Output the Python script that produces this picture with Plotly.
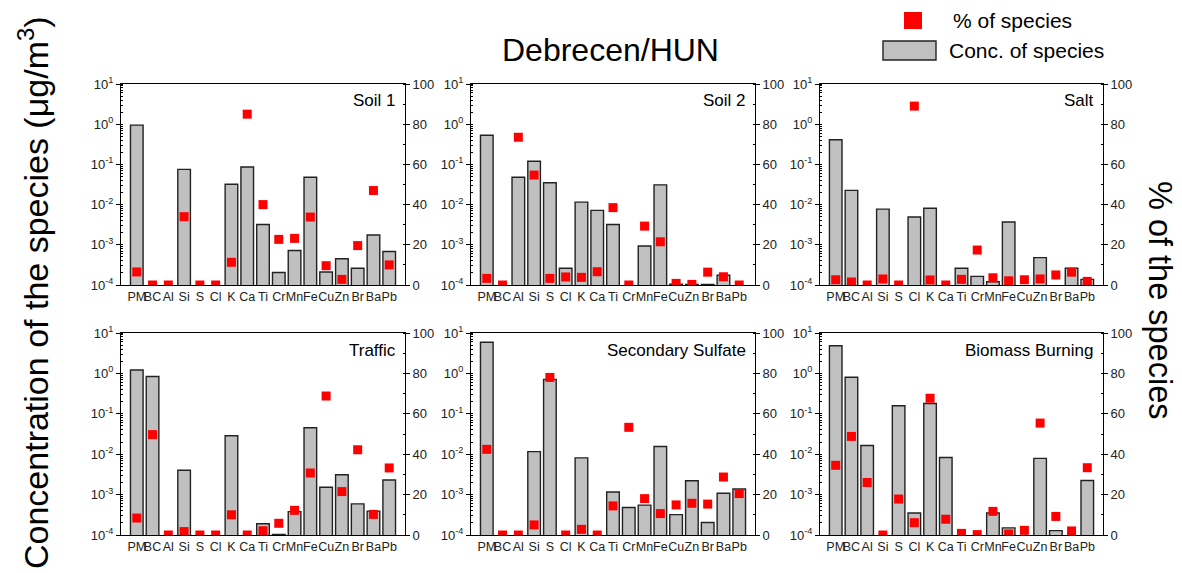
import plotly.graph_objects as go

W, H = 1182, 573

species = ["PM", "BC", "Al", "Si", "S", "Cl", "K", "Ca", "Ti", "Cr", "Mn", "Fe", "Cu", "Zn", "Br", "Ba", "Pb"]

soil1_conc = [0.95, None, None, 0.075, None, None, 0.032, 0.086, 0.0032, 2.05e-4, 7.2e-4, 0.048, 2.1e-4, 4.5e-4, 2.6e-4, 1.75e-3, 6.8e-4]
soil1_pct = [6.5, 0, 0, 34, 0, 0, 11.3, 85, 40, 22.7, 23.2, 33.8, 9.6, 2.8, 19.6, 47, 10]

soil2_conc = [0.53, None, 0.048, 0.12, 0.035, 2.6e-4, 0.0115, 0.0072, 0.0032, None, 9.3e-4, 0.031, 1.04e-4, 1.03e-4, 1.03e-4, 1.75e-4, None]
soil2_pct = [3.3, 0, 73.5, 54.7, 3.3, 4, 3.8, 6.6, 38.5, 0, 29.3, 21.5, 0.8, 0.3, 6.4, 4.1, 0]

salt_conc = [0.41, 0.0226, None, 0.0077, None, 0.0049, 0.0081, None, 2.6e-4, 1.64e-4, 1.2e-4, 0.0037, None, 4.8e-4, None, 2.6e-4, 1.38e-4]
salt_pct = [2.6, 1.5, 0, 3.0, 0, 89, 2.5, 0, 2.8, 17.4, 3.6, 2.1, 2.6, 3.0, 5.0, 6.4, 1.8]

traffic_conc = [1.21, 0.84, None, 0.004, None, None, 0.0285, None, 1.9e-4, 1.03e-4, 3.8e-4, 0.045, 1.52e-3, 3.1e-3, 5.9e-4, 3.9e-4, 2.3e-3]
traffic_pct = [8.4, 49.7, 0, 1.7, 0, 0, 10, 0, 2.1, 5.8, 12.2, 30.7, 68.8, 21.5, 42.2, 10.2, 33.2]

sulfate_conc = [5.9, None, None, 0.0116, 0.71, None, 0.0081, None, 1.16e-3, 4.8e-4, 5.5e-4, 0.0155, 3.2e-4, 2.2e-3, 2.04e-4, 1.08e-3, 1.38e-3]
sulfate_pct = [42.4, 0, 0, 5, 78, 0, 2.8, 0, 14.4, 53.3, 18, 10.6, 14.9, 15.7, 15.3, 28.7, 20.5]

biomass_conc = [4.85, 0.8, 0.0164, None, 0.158, 3.5e-4, 0.18, 0.0083, None, None, 3.5e-4, 1.5e-4, None, 0.0079, 1.28e-4, None, 2.24e-3]
biomass_pct = [34.5, 48.8, 26, 0, 17.8, 6.1, 67.7, 7.8, 0.8, 0.2, 11.7, 0.5, 2.3, 55.4, 9.2, 2.0, 33.3]

panel_names = ["Soil 1", "Soil 2", "Salt", "Traffic", "Secondary Sulfate", "Biomass Burning"]
panel_conc = [soil1_conc, soil2_conc, salt_conc, traffic_conc, sulfate_conc, biomass_conc]
panel_pct = [soil1_pct, soil2_pct, salt_pct, traffic_pct, sulfate_pct, biomass_pct]

log_tickvals = [1e-4, 1e-3, 1e-2, 1e-1, 1e0, 1e1]
log_ticktext = ["10<sup>-4</sup>", "10<sup>-3</sup>", "10<sup>-2</sup>", "10<sup>-1</sup>", "10<sup>0</sup>", "10<sup>1</sup>"]
pct_ticks = [0, 20, 40, 60, 80, 100]

FONT = "Liberation Sans, Arial, sans-serif"

def px_x(v):
    return v / W

def px_y(v):
    return 1 - v / H

cols_px = [(121, 405), (471, 755), (820, 1103)]
rows_px = [(84, 285), (333, 535)]

fig = go.Figure()
layout = dict(
    template="none",
    width=W, height=H, autosize=False,
    margin=dict(l=0, r=0, t=0, b=0, pad=0, autoexpand=False),
    paper_bgcolor="white", plot_bgcolor="white",
    showlegend=False,
    font=dict(family=FONT, color="black", size=13),
)
annotations = []

for i in range(6):
    r, c = divmod(i, 3)
    n = i + 1
    xa = "x" if n == 1 else f"x{n}"
    yl_n = 2 * i + 1
    yr_n = 2 * i + 2
    yl = "y" if yl_n == 1 else f"y{yl_n}"
    yr = f"y{yr_n}"
    x0, x1 = cols_px[c]
    yt, yb = rows_px[r]

    fig.add_trace(go.Bar(
        x=species, y=panel_conc[i], xaxis=xa, yaxis=yl, width=0.8,
        marker=dict(color="#c0c0c0", line=dict(color="#222222", width=1.4)),
        name="Conc. of species",
    ))
    fig.add_trace(go.Scatter(
        x=species, y=panel_pct[i], xaxis=xa, yaxis=yr, mode="markers",
        marker=dict(symbol="square", size=9, color="#ff0000", line=dict(width=0)),
        name="% of species",
    ))

    xkey = "xaxis" if n == 1 else f"xaxis{n}"
    ylkey = "yaxis" if yl_n == 1 else f"yaxis{yl_n}"
    yrkey = f"yaxis{yr_n}"

    layout[xkey] = dict(
        domain=[px_x(x0), px_x(x1)], anchor=yl, type="category",
        categoryorder="array", categoryarray=species, range=[-1, 17],
        showline=True, linecolor="black", linewidth=1, mirror=True,
        ticks="", showgrid=False, zeroline=False, tickangle=0, automargin=False,
        tickfont=dict(size=12.5, family=FONT, color="#222222"),
    )
    layout[ylkey] = dict(
        domain=[px_y(yb), px_y(yt)], anchor=xa, type="log", range=[-4, 1],
        tickmode="array", tickvals=log_tickvals, ticktext=log_ticktext,
        ticks="outside", ticklen=4, tickcolor="black",
        showline=True, linecolor="black", linewidth=1,
        showgrid=False, zeroline=False, automargin=False,
        tickfont=dict(size=13, family=FONT, color="#222222"),
        minor=dict(ticks="inside", ticklen=2, tickcolor="black", dtick="D1", showgrid=False),
    )
    layout[yrkey] = dict(
        domain=[px_y(yb), px_y(yt)], anchor=xa, overlaying=yl, side="right",
        range=[0, 100], tickmode="array", tickvals=pct_ticks,
        ticks="outside", ticklen=4, tickcolor="black",
        showline=True, linecolor="black", linewidth=1,
        showgrid=False, zeroline=False, automargin=False,
        tickfont=dict(size=13, family=FONT, color="#222222"),
        minor=dict(ticks="inside", ticklen=2, tickcolor="black", dtick=10, showgrid=False),
    )

    annotations.append(dict(
        x=px_x(x1 - 7), y=px_y(yt + 17), xref="paper", yref="paper",
        text=panel_names[i], showarrow=False, xanchor="right", yanchor="middle",
        font=dict(size=17, family=FONT, color="black"),
    ))

# Main title
annotations.append(dict(
    x=px_x(610), y=px_y(50), xref="paper", yref="paper", text="Debrecen/HUN",
    showarrow=False, xanchor="center", yanchor="middle",
    font=dict(size=32, family=FONT, color="black"),
))
# Axis titles
annotations.append(dict(
    x=px_x(33), y=px_y(293), xref="paper", yref="paper",
    text="Concentration of the species (\u03bcg/m<sup>3</sup>)", textangle=-90,
    showarrow=False, xanchor="center", yanchor="middle",
    font=dict(size=34, family=FONT, color="black"),
))
annotations.append(dict(
    x=px_x(1160), y=px_y(300), xref="paper", yref="paper",
    text="% of the species", textangle=90,
    showarrow=False, xanchor="center", yanchor="middle",
    font=dict(size=32.5, family=FONT, color="black"),
))
# Legend
annotations.append(dict(
    x=px_x(951), y=px_y(20), xref="paper", yref="paper", text="% of species",
    showarrow=False, xanchor="left", yanchor="middle",
    font=dict(size=21, family=FONT, color="black"),
))
annotations.append(dict(
    x=px_x(947), y=px_y(50), xref="paper", yref="paper", text="Conc. of species",
    showarrow=False, xanchor="left", yanchor="middle",
    font=dict(size=21, family=FONT, color="black"),
))
shapes = [
    dict(type="rect", xref="paper", yref="paper", x0=px_x(904), x1=px_x(922), y0=px_y(29), y1=px_y(12),
         fillcolor="#ff0000", line=dict(width=0)),
    dict(type="rect", xref="paper", yref="paper", x0=px_x(883), x1=px_x(936), y0=px_y(60), y1=px_y(41),
         fillcolor="#c0c0c0", line=dict(color="#222222", width=1.4)),
]

layout["annotations"] = annotations
layout["shapes"] = shapes
fig.update_layout(**layout)
fig.write_html("out.html")
